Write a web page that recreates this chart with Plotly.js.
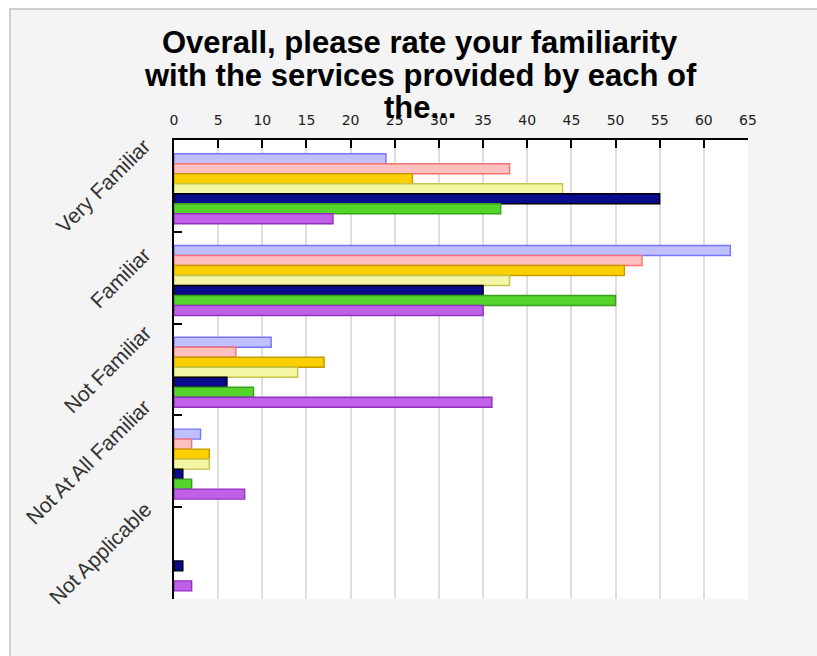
<!DOCTYPE html>
<html>
<head>
<meta charset="utf-8">
<script src="https://cdn.plot.ly/plotly-3.0.1.min.js"></script>
<style>
  html, body { margin: 0; padding: 0; background: #ffffff; overflow: hidden; }
  #chart { position: absolute; left: 9px; top: 8px; width: 806px; height: 646px;
           border-top: 2px solid #cfcfcf; border-left: 2px solid #cfcfcf; }
</style>
</head>
<body>
<div id="chart"></div>
<script>
// ---- data ----
const categories = ["Very Familiar", "Familiar", "Not Familiar", "Not At All Familiar", "Not Applicable"];
const seriesNames = ["Series 1", "Series 2", "Series 3", "Series 4", "Series 5", "Series 6", "Series 7"];
const series1 = [24, 63, 11, 3, 0];
const series2 = [38, 53, 7, 2, 0];
const series3 = [27, 51, 17, 4, 0];
const series4 = [44, 38, 14, 4, 0];
const series5 = [55, 35, 6, 1, 1];
const series6 = [37, 50, 9, 2, 0];
const series7 = [18, 35, 36, 8, 2];
const xTicks = [0, 5, 10, 15, 20, 25, 30, 35, 40, 45, 50, 55, 60, 65];
const titleLines = ["Overall, please rate your familiarity", "with the services provided by each of", "the..."];

// ---- style ----
const fills = ["#c0c0ff", "#ffc0c0", "#fcd000", "#f5f5a6", "#0a0a8c", "#55d42a", "#c060e6"];
const lines = ["#7474ff", "#ff7070", "#c49a00", "#c4c44a", "#000000", "#3a9e1e", "#9032c0"];
const allSeries = [series1, series2, series3, series4, series5, series6, series7];

const W = 806, H = 646;
const ml = 163, mr = 69, mt = 130, mb = 57;
const pw = W - ml - mr, ph = H - mt - mb;
const barW = 0.109, firstOff = -0.351;

const traces = allSeries.map((vals, i) => ({
  type: "bar",
  orientation: "h",
  name: seriesNames[i],
  x: vals.map(v => (v === 0 ? null : v)),   // zero-length bars are not drawn in the reference
  y: categories,
  width: barW,
  offset: firstOff + i * barW,
  marker: { color: fills[i], line: { color: lines[i], width: 1.4 } },
  hoverinfo: "x+name"
}));

// page pixel -> paper coords (div content origin is page (11,10))
const pxX = p => (p - 11 - ml) / pw;
const pxY = p => 1 - (p - 10 - mt) / ph;

const annotations = [];
const titleCenters = [42.6, 75.0, 107.0];
titleLines.forEach((t, i) => annotations.push({
  text: t, xref: "paper", yref: "paper", x: pxX(420), y: pxY(titleCenters[i]),
  xanchor: "center", yanchor: "middle", showarrow: false,
  font: { family: "Liberation Sans, Arial, sans-serif", size: 31, color: "#000000", weight: "bold" }
}));
categories.forEach(c => annotations.push({
  text: c, xref: "paper", yref: "y", x: pxX(158), y: c,
  xanchor: "right", yanchor: "middle", textangle: -45, showarrow: false,
  font: { family: "Liberation Sans, Arial, sans-serif", size: 21, color: "#333333" }
}));

const layout = {
  width: W, height: H,
  paper_bgcolor: "#f4f4f4",
  plot_bgcolor: "#ffffff",
  margin: { l: ml, r: mr, t: mt, b: mb, pad: 0 },
  barmode: "overlay",
  showlegend: false,
  xaxis: {
    side: "top", range: [0, 65], tickmode: "array", tickvals: xTicks, ticktext: xTicks.map(String),
    showline: true, linecolor: "#000000", linewidth: 2,
    ticks: "inside", ticklen: 8, tickwidth: 2, tickcolor: "#000000",
    showgrid: true, gridcolor: "#dedede", gridwidth: 2, zeroline: false,
    ticklabelstandoff: 7,
    tickfont: { family: "DejaVu Sans, sans-serif", size: 14, color: "#222222" }
  },
  yaxis: {
    type: "category", categoryorder: "array", categoryarray: categories,
    range: [4.5, -0.5],
    showline: true, linecolor: "#000000", linewidth: 2,
    ticks: "inside", ticklen: 8, tickwidth: 2, tickcolor: "#000000", tickson: "boundaries",
    showgrid: false, zeroline: false, showticklabels: false
  },
  annotations: annotations
};

Plotly.newPlot("chart", traces, layout, { displayModeBar: false, staticPlot: true });
</script>
</body>
</html>
